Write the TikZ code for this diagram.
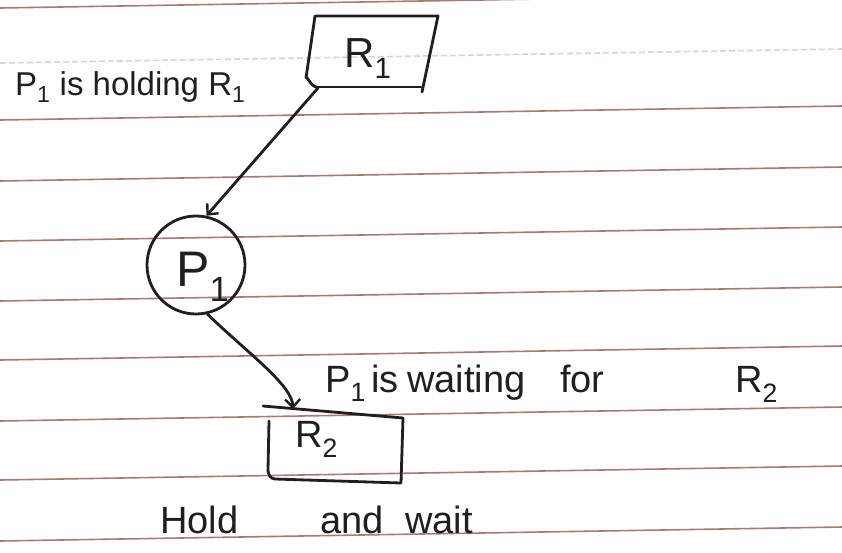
\documentclass[tikz,border=0pt]{standalone}
\usepackage{fontspec}
\setmainfont{Liberation Sans}
\usetikzlibrary{arrows.meta}
\definecolor{paperline}{RGB}{170,122,112}
\begin{document}
\begin{tikzpicture}[x=1pt,y=-1pt,
  ink/.style={line width=2.8pt, line cap=round, line join=round, black!88},
  rule/.style={line width=1.6pt, paperline},
  flow/.style={ink, -{Straight Barb[length=8pt,width=15pt,line width=2.4pt]}},
  hand/.style={inner sep=0pt, text=black!88},
  proc/.style={circle, draw, ink, minimum size=98pt, inner sep=0pt}]

% page
\useasboundingbox (0,0) rectangle (842,552);
\fill[white] (0,0) rectangle (842,552);

% ruled lines of the notebook page
\foreach \y in {8,120,181,241,301,360,421,480,541}
  \draw[rule] (0,\y) -- (842,\y-14);
\draw[rule, opacity=0.35, dash pattern=on 6pt off 3pt] (0,63) -- (842,49);

% resource R1 (hand-drawn box)
\node[hand, font=\fontsize{42}{42}\selectfont, anchor=base] (r1) at (368,67) {R\textsubscript{1}};
\draw[ink] (317,87) to[out=190,in=100] (306,78) -- (315,16) -- (438,16) -- (422,92);
\draw[ink] (317,87) -- (421,87);
\coordinate (r1tail) at (318,88);

% process P1
\node[proc] (p1) at (196,265) {};
\node[hand, font=\fontsize{50}{50}\selectfont, anchor=base] (p1lbl) at (203,286) {P\textsubscript{1}};

% resource R2 (hand-drawn box)
\draw[ink] (263,406) -- (403,418) -- (401,483) -- (275,479) to[out=180,in=270] (268,470) -- (269,421);
\node[hand, font=\fontsize{38}{38}\selectfont, anchor=base west] (r2) at (295,447) {R\textsubscript{2}};
\coordinate (r2head) at (293,409);

% edges: assignment R1 -> P1, request P1 -> R2
\draw[flow] (r1tail) -- (p1.78);
\draw[flow] (p1.-77) .. controls (250,355) and (292,385) .. (r2head);

% annotations
\node[hand, font=\fontsize{33}{33}\selectfont, anchor=base west] (hold) at (15,95)
  {P\textsubscript{1} is holding R\textsubscript{1}};
\node[hand, font=\fontsize{38}{38}\selectfont, anchor=base west] (wait) at (325,392)
  {\makebox[46pt][l]{P\textsubscript{1}}\makebox[36pt][l]{is}\makebox[153pt][l]{waiting}\makebox[175pt][l]{for}R\textsubscript{2}};
\node[hand, font=\fontsize{38}{38}\selectfont, anchor=base west] (title) at (160,533)
  {\makebox[160pt][l]{Hold}\makebox[85pt][l]{and}wait};
\end{tikzpicture}
\end{document}
